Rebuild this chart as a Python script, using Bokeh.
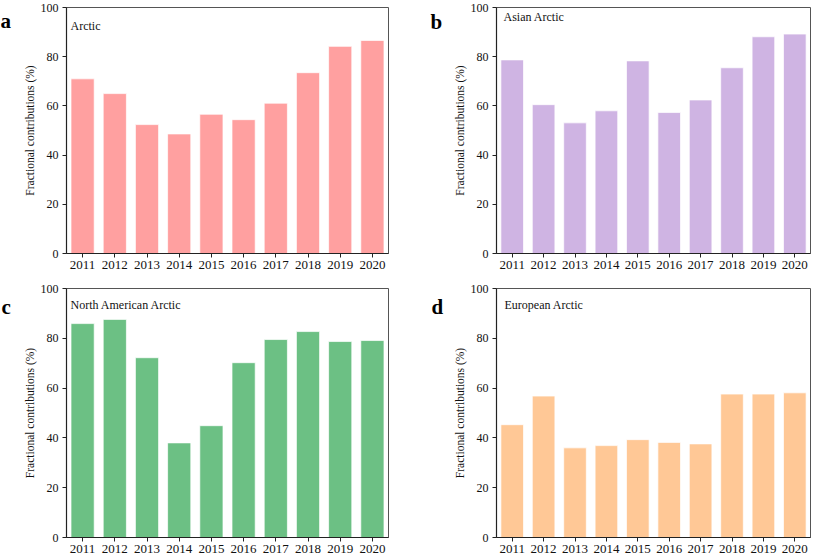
from bokeh.plotting import figure
from bokeh.layouts import column, row
from bokeh.models import Label, ColumnDataSource, FactorRange, Range1d, FixedTicker
from bokeh.core.properties import value
from bokeh.embed import file_html
from bokeh.resources import INLINE

years = ["2011", "2012", "2013", "2014", "2015", "2016", "2017", "2018", "2019", "2020"]
arctic = [71.0, 65.0, 52.4, 48.6, 56.6, 54.4, 61.1, 73.5, 84.2, 86.6]
asian_arctic = [78.7, 60.5, 53.1, 58.0, 78.3, 57.3, 62.4, 75.5, 88.1, 89.2]
north_american_arctic = [85.9, 87.6, 72.2, 38.0, 44.9, 70.2, 79.5, 82.7, 78.7, 79.1]
european_arctic = [45.3, 56.8, 36.0, 36.9, 39.3, 38.2, 37.6, 57.6, 57.6, 58.1]
y_ticks = [0, 20, 40, 60, 80, 100]

SERIF = "Liberation Serif"


def letter_fig(letter, w, h, lx, baseline_from_top):
    f = figure(width=w, height=h, x_range=Range1d(0, w), y_range=Range1d(h, 0),
               output_backend="svg", toolbar_location=None, title=None,
               x_axis_location=None, y_axis_location=None,
               min_border=0, min_border_left=0, min_border_right=0,
               min_border_top=0, min_border_bottom=0)
    f.outline_line_color = None
    f.xgrid.visible = False
    f.ygrid.visible = False
    f.text(x=[lx], y=[baseline_from_top], text=[letter], text_font=value(SERIF),
           text_font_style="bold", text_font_size="21px", text_baseline="alphabetic",
           text_align="left", text_color="#000000")
    return f


def panel(title, values, color, w, h, left, right, top, bottom, title_dx, title_dy_top):
    p = figure(width=w, height=h, x_range=FactorRange(*years, range_padding=0),
               y_range=Range1d(0, 100), output_backend="svg", toolbar_location=None,
               min_border_left=left, min_border_right=right,
               min_border_top=top, min_border_bottom=bottom)
    src = ColumnDataSource(dict(year=years, value=values))
    p.vbar(x="year", top="value", width=0.72, source=src, fill_color=color,
           line_color="white", line_alpha=0.7, line_width=1)
    p.xgrid.visible = False
    p.ygrid.visible = False
    p.outline_line_color = "#555555"
    p.outline_line_width = 1
    for ax in (p.xaxis, p.yaxis):
        ax.axis_line_color = "#222222"
        ax.axis_line_width = 1.2
        ax.major_tick_line_color = "#222222"
        ax.major_tick_out = 4
        ax.major_tick_in = 0
        ax.minor_tick_line_color = None
        ax.major_label_text_font = SERIF
        ax.major_label_text_color = "#111111"
    p.xaxis.major_label_text_font_size = "13px"
    p.yaxis.major_label_text_font_size = "12px"
    p.xaxis.major_label_standoff = 3
    p.yaxis.major_label_standoff = 4
    p.yaxis.ticker = FixedTicker(ticks=y_ticks)
    p.yaxis.axis_label = "Fractional contributions (%)"
    p.yaxis.axis_label_text_font = SERIF
    p.yaxis.axis_label_text_font_style = "normal"
    p.yaxis.axis_label_text_font_size = "11.5px"
    p.yaxis.axis_label_text_color = "#111111"
    p.yaxis.axis_label_standoff = 2
    fh = h - top - bottom
    p.add_layout(Label(x=title_dx, y=fh - title_dy_top, x_units="screen", y_units="screen",
                       text=title, text_font=SERIF, text_font_size="12px",
                       text_baseline="alphabetic", text_color="#111111"))
    return p


la = letter_fig("a", 20, 277, 0, 15)
pa = panel("Arctic", arctic, "#FFA0A0", 386, 277, 46, 18, 7, 24, 4, 18)
lb = letter_fig("b", 40, 277, 24, 16)
pb = panel("Asian Arctic", asian_arctic, "#CFB4E3", 367, 277, 50, 3, 5, 22, 7, 13)
lc = letter_fig("c", 20, 278, 1, 21)
pc = panel("North American Arctic", north_american_arctic, "#6CC084", 386, 278, 46, 18, 11, 18, 4, 16)
ld = letter_fig("d", 40, 278, 25, 21)
pd = panel("European Arctic", european_arctic, "#FFC896", 367, 278, 50, 3, 10, 18, 8, 17)

layout = column(row(la, pa, lb, pb, spacing=0), row(lc, pc, ld, pd, spacing=0), spacing=0)

open("out.html", "w").write(file_html(layout, INLINE))
